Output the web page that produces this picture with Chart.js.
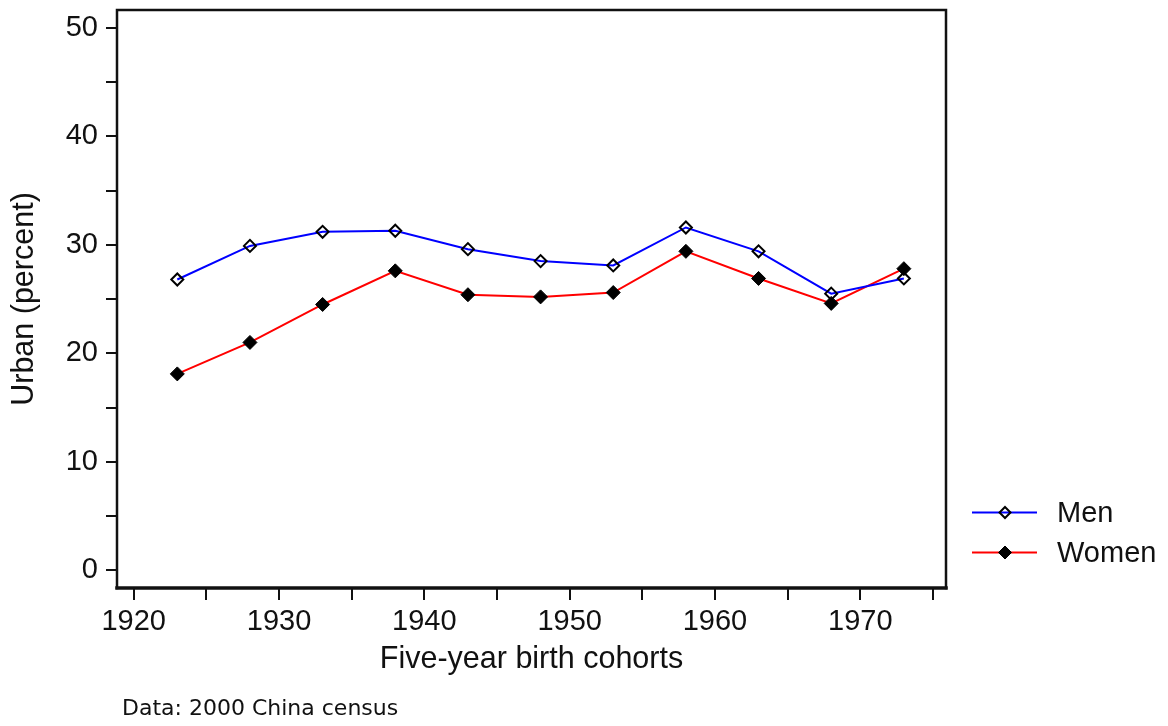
<!DOCTYPE html>
<html>
<head>
<meta charset="utf-8">
<title>Urban share by birth cohort</title>
<script src="https://cdn.jsdelivr.net/npm/chart.js@4.4.1/dist/chart.umd.min.js"></script>
<style>
  html, body { margin: 0; padding: 0; background: #fff; }
  #wrap { width: 1168px; height: 726px; position: relative; }
</style>
</head>
<body>
<div id="wrap"><canvas id="chart"></canvas></div>
<script>
// Five-year birth cohorts (midpoints) and percent living in urban areas
const cohorts = [1923, 1928, 1933, 1938, 1943, 1948, 1953, 1958, 1963, 1968, 1973];
const menUrban = [26.8, 29.9, 31.2, 31.3, 29.6, 28.5, 28.1, 31.6, 29.4, 25.5, 26.9];
const womenUrban = [18.1, 21.0, 24.5, 27.6, 25.4, 25.2, 25.6, 29.4, 26.9, 24.6, 27.8];

// Axis ticks: marks every 5 units, labels every 10
const xTickValues = [1920, 1925, 1930, 1935, 1940, 1945, 1950, 1955, 1960, 1965, 1970, 1975];
const xTickLabels = ['1920', '', '1930', '', '1940', '', '1950', '', '1960', '', '1970', ''];
const yTickValues = [0, 5, 10, 15, 20, 25, 30, 35, 40, 45, 50];
const yTickLabels = ['0', '', '10', '', '20', '', '30', '', '40', '', '50'];

const seriesNames = ['Men', 'Women'];
const xTitle = 'Five-year birth cohorts';
const yTitle = 'Urban (percent)';
const sourceNote = 'Data: 2000 China census';

const FONT = "'Liberation Sans', Arial, Helvetica, sans-serif";
const INK = '#111';

Chart.defaults.font.family = FONT;
Chart.defaults.color = INK;

function toPoints(xs, ys) {
  return xs.map((x, i) => ({ x: x, y: ys[i] }));
}

// Box around the plotting region (bottom edge heavier)
const framePlugin = {
  id: 'frame',
  beforeDatasetsDraw(chart) {
    const a = chart.chartArea;
    const ctx = chart.ctx;
    ctx.save();
    ctx.strokeStyle = INK;
    ctx.lineCap = 'square';
    ctx.lineWidth = 2.5;
    ctx.beginPath();
    ctx.moveTo(a.left, a.bottom);
    ctx.lineTo(a.left, a.top);
    ctx.lineTo(a.right, a.top);
    ctx.lineTo(a.right, a.bottom);
    ctx.stroke();
    ctx.lineWidth = 3.5;
    ctx.beginPath();
    ctx.moveTo(a.left, a.bottom);
    ctx.lineTo(a.right, a.bottom);
    ctx.stroke();
    ctx.restore();
  }
};

function diamond(ctx, x, y, r) {
  ctx.beginPath();
  ctx.moveTo(x, y - r);
  ctx.lineTo(x + r, y);
  ctx.lineTo(x, y + r);
  ctx.lineTo(x - r, y);
  ctx.closePath();
}

// Key to the right of the plot: line sample with marker, then series name
const keyPlugin = {
  id: 'sideKey',
  afterDraw(chart) {
    const ctx = chart.ctx;
    const x0 = 972, x1 = 1037, xm = 1005, xt = 1057;
    const rows = [512.5, 552.5];
    const markerR = [5.5, 6.5];
    ctx.save();
    chart.data.datasets.forEach((ds, i) => {
      const y = rows[i];
      ctx.strokeStyle = ds.borderColor;
      ctx.lineWidth = ds.borderWidth;
      ctx.beginPath();
      ctx.moveTo(x0, y);
      ctx.lineTo(x1, y);
      ctx.stroke();
      diamond(ctx, xm, y, markerR[i]);
      ctx.fillStyle = ds.pointBackgroundColor;
      ctx.fill();
      ctx.strokeStyle = ds.pointBorderColor;
      ctx.lineWidth = ds.pointBorderWidth;
      ctx.stroke();
      ctx.fillStyle = INK;
      ctx.font = '29px ' + FONT;
      ctx.textAlign = 'left';
      ctx.textBaseline = 'alphabetic';
      ctx.fillText(ds.label, xt, y + 9.5);
    });
    // Source line under the chart
    ctx.font = "22px 'DejaVu Sans', Verdana, sans-serif";
    ctx.fillStyle = '#111';
    ctx.fillText(sourceNote, 122, 715);
    ctx.restore();
  }
};

new Chart(document.getElementById('chart'), {
  type: 'line',
  data: {
    datasets: [
      {
        label: seriesNames[0],
        data: toPoints(cohorts, menUrban),
        borderColor: '#0000ff',
        borderWidth: 2,
        tension: 0,
        pointStyle: 'rectRot',
        pointRadius: 6,
        pointHoverRadius: 6,
        pointBackgroundColor: 'rgba(255,255,255,0)',
        pointBorderColor: '#000',
        pointBorderWidth: 2
      },
      {
        label: seriesNames[1],
        data: toPoints(cohorts, womenUrban),
        borderColor: '#ff0000',
        borderWidth: 2,
        tension: 0,
        pointStyle: 'rectRot',
        pointRadius: 7,
        pointHoverRadius: 7,
        pointBackgroundColor: '#000',
        pointBorderColor: '#000',
        pointBorderWidth: 1
      }
    ]
  },
  options: {
    responsive: true,
    maintainAspectRatio: false,
    animation: false,
    events: [],
    layout: { padding: { top: 10, right: 222, bottom: 0, left: 0 } },
    plugins: {
      legend: { display: false },
      tooltip: { enabled: false }
    },
    scales: {
      x: {
        type: 'linear',
        min: 1918.85,
        max: 1975.9,
        afterBuildTicks(scale) { scale.ticks = xTickValues.map(v => ({ value: v })); },
        afterFit(scale) { scale.height = 138; scale.paddingLeft = 0; scale.paddingRight = 0; },
        ticks: {
          autoSkip: false,
          maxRotation: 0,
          padding: 5,
          color: INK,
          font: { size: 29 },
          callback: (v, i) => xTickLabels[i]
        },
        grid: { drawOnChartArea: false, drawTicks: true, tickLength: 12, color: INK, lineWidth: 2 },
        border: { display: false },
        title: {
          display: true,
          text: xTitle,
          color: INK,
          font: { size: 30.5 },
          padding: { top: 0, bottom: 48 }
        }
      },
      y: {
        type: 'linear',
        min: -1.64,
        max: 51.65,
        afterBuildTicks(scale) { scale.ticks = yTickValues.map(v => ({ value: v })); },
        afterFit(scale) { scale.width = 117; scale.paddingTop = 0; scale.paddingBottom = 0; },
        ticks: {
          autoSkip: false,
          padding: 8,
          color: INK,
          font: { size: 29 },
          callback: (v, i) => yTickLabels[i]
        },
        grid: { drawOnChartArea: false, drawTicks: true, tickLength: 11, color: INK, lineWidth: 2 },
        border: { display: false },
        title: {
          display: true,
          text: yTitle,
          color: INK,
          font: { size: 30.5 },
          padding: { top: 6, bottom: 0 }
        }
      }
    }
  },
  plugins: [framePlugin, keyPlugin]
});
</script>
</body>
</html>
